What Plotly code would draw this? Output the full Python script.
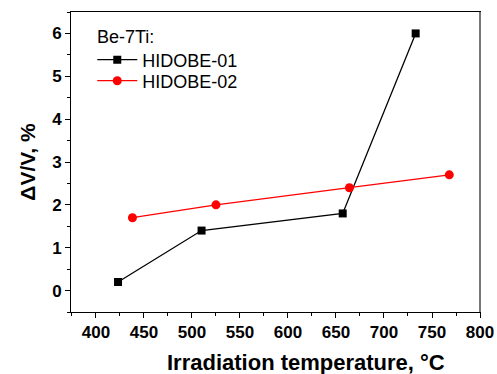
import plotly.graph_objects as go

x1 = [423, 510, 657, 733]
y1 = [0.2, 1.4, 1.8, 6.0]
x2 = [438, 525, 664, 768]
y2 = [1.7, 2.0, 2.4, 2.7]
xticks = [400, 450, 500, 550, 600, 650, 700, 750, 800]
yticks = [0, 1, 2, 3, 4, 5, 6]

FONT = "Arial, Liberation Sans, sans-serif"

fig = go.Figure()
fig.add_trace(go.Scatter(x=x1, y=y1, mode="lines+markers", name="HIDOBE-01",
                         line=dict(color="black", width=1.3),
                         marker=dict(symbol="square", size=8, color="black"),
                         legend="legend"))
fig.add_trace(go.Scatter(x=x2, y=y2, mode="lines+markers", name="HIDOBE-02",
                         line=dict(color="red", width=1.3),
                         marker=dict(symbol="circle", size=9, color="red"),
                         legend="legend2"))

leg_common = dict(xanchor="left", yanchor="middle", font=dict(size=18, family=FONT),
                  bgcolor="rgba(0,0,0,0)", itemwidth=40)

fig.update_layout(
    width=497, height=374,
    margin=dict(l=71, r=17, t=12, b=62, autoexpand=False),
    plot_bgcolor="white", paper_bgcolor="white",
    font=dict(family=FONT, color="black"),
    legend=dict(x=0.052, y=0.84, **leg_common),
    legend2=dict(x=0.052, y=0.77, **leg_common),
    showlegend=True,
    annotations=[
        dict(text="Be-7Ti:", xref="paper", yref="paper", x=0.058, y=0.917,
             xanchor="left", yanchor="middle", showarrow=False,
             font=dict(size=18, family=FONT)),
        dict(text="<b>Irradiation temperature, °C</b>", xref="paper", yref="paper",
             x=0.575, y=-0.168, xanchor="center", yanchor="middle", showarrow=False,
             font=dict(size=22, family=FONT, weight="bold")),
    ],
    shapes=[dict(type="line", xref="paper", yref="paper", x0=1, x1=1, y0=0, y1=1,
                 line=dict(color="#777777", width=2))],
)
fig.update_xaxes(range=[374, 800], tickmode="array", tickvals=xticks,
                 ticktext=[f"<b>{v}</b>" for v in xticks],
                 ticks="outside", ticklen=5, tickwidth=1, tickcolor="black",
                 minor=dict(ticks="outside", ticklen=3, dtick=25, tick0=375, tickcolor="black"),
                 showline=True, linecolor="black", linewidth=1, mirror=True,
                 showgrid=False, zeroline=False, automargin=False,
                 tickfont=dict(size=17, family=FONT, weight="bold"))
fig.update_yaxes(range=[-0.5, 6.5], tickmode="array", tickvals=yticks,
                 ticktext=[f"<b>{v}</b>" for v in yticks],
                 ticks="outside", ticklen=5, tickwidth=1, tickcolor="black",
                 minor=dict(ticks="outside", ticklen=3, dtick=0.5, tick0=0, tickcolor="black"),
                 showline=True, linecolor="black", linewidth=1, mirror=True,
                 showgrid=False, zeroline=False, automargin=False,
                 tickfont=dict(size=17, family=FONT, weight="bold"),
                 title=dict(text="<b>ΔV/V, %</b>",
                            font=dict(size=21, family=FONT, weight="bold"), standoff=10))

fig.write_html("out.html")
